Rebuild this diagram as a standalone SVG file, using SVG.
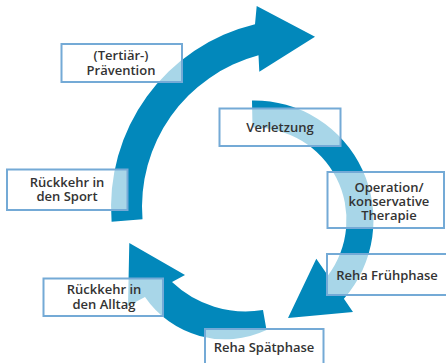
<svg xmlns="http://www.w3.org/2000/svg" width="446" height="363" viewBox="0 0 446 363">
  <style>
    .arrow { fill: #0288bb; stroke: none; }
    .box { fill: #ffffff; fill-opacity: 0.66; stroke: #74aad6; stroke-width: 2; }
    .label { font-family: "Open Sans", "Liberation Sans", sans-serif; font-size: 13px; font-weight: 600; fill: #333333; text-anchor: middle; }
  </style>
  <rect width="446" height="363" fill="#ffffff"/>

  <!-- cycle arrows -->
  <g id="connectors">
    <!-- Rückkehr in den Sport -> Prävention (big upper arc) -->
    <path class="arrow" d="M111.6,221.8 A188,188 0 0 1 255,24.2 L256.7,6 L315,36.7 L259.3,71.7 L258.5,55.3 A157,157 0 0 0 142.5,219.3 Z"/>
    <!-- Verletzung -> Reha Frühphase (right arc) -->
    <path class="arrow" d="M252,100.5 A119.5,119.5 0 0 1 343.9,298.7 L353,312 L288,318 L316.3,258.7 L327.9,275.6 A92.5,92.5 0 0 0 252.5,127.5 Z"/>
    <!-- Reha Spätphase -> Rückkehr in den Alltag (bottom arc) -->
    <path class="arrow" d="M266.5,330 A97,97 0 0 1 145,297 L128,306 L129.3,243 L185,275 L172,282 A107,107 0 0 0 263,310 Z"/>
  </g>

  <g id="praevention">
    <rect class="box" x="61.5" y="44" width="120.5" height="38"/>
    <text class="label" x="121" y="59.5">(Tertiär-)</text>
    <text class="label" x="121" y="75">Prävention</text>
  </g>

  <g id="verletzung">
    <rect class="box" x="219.5" y="108.5" width="121" height="37.5"/>
    <text class="label" x="280" y="132">Verletzung</text>
  </g>

  <g id="operation">
    <rect class="box" x="327.5" y="172" width="116.5" height="56"/>
    <text class="label" x="389" y="192">Operation/</text>
    <text class="label" x="389" y="205.5">konservative</text>
    <text class="label" x="389" y="219.5">Therapie</text>
  </g>

  <g id="fruehphase">
    <rect class="box" x="327" y="254" width="121" height="41"/>
    <text class="label" x="387" y="279.5">Reha Frühphase</text>
  </g>

  <g id="spaetphase">
    <rect class="box" x="205" y="329" width="118.5" height="40"/>
    <text class="label" x="264" y="352">Reha Spätphase</text>
  </g>

  <g id="alltag">
    <rect class="box" x="43.5" y="278.5" width="119.5" height="37.5"/>
    <text class="label" x="104" y="294">Rückkehr in</text>
    <text class="label" x="104" y="308.5">den Alltag</text>
  </g>

  <g id="sport">
    <rect class="box" x="7" y="169.5" width="120.5" height="40.5"/>
    <text class="label" x="67" y="187">Rückkehr in</text>
    <text class="label" x="67" y="201">den Sport</text>
  </g>
</svg>
